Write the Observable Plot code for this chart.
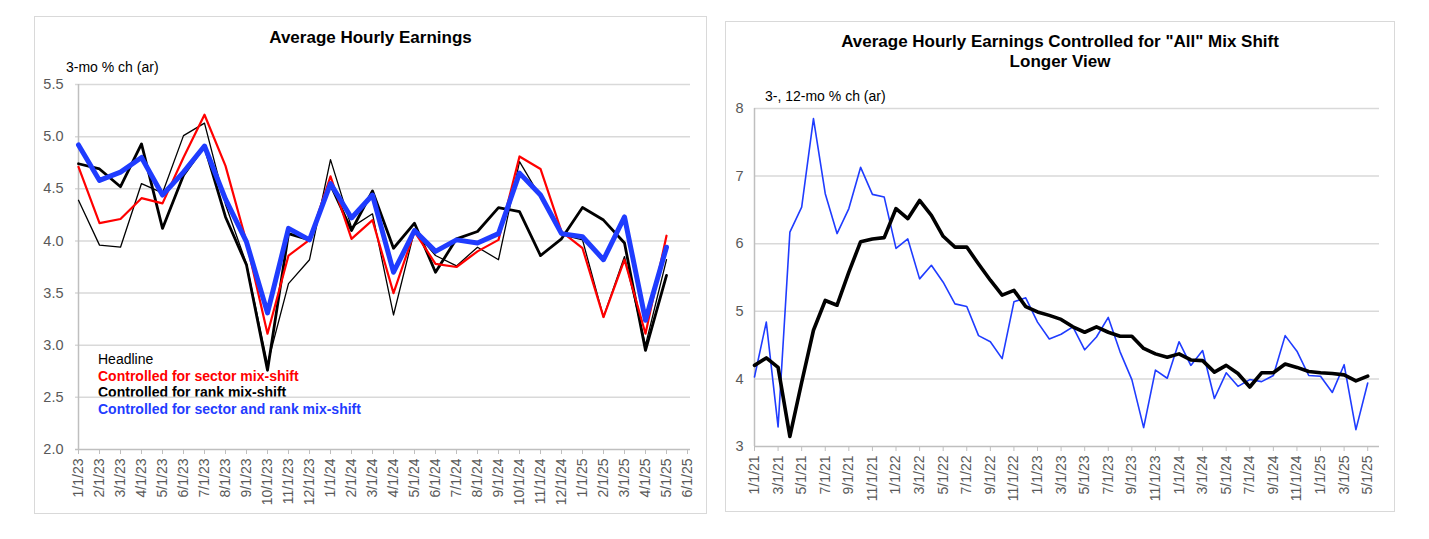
<!DOCTYPE html>
<html>
<head>
<meta charset="utf-8">
<script src="https://cdn.jsdelivr.net/npm/d3@7"></script>
<script src="https://cdn.jsdelivr.net/npm/@observablehq/plot@0.6"></script>
<style>
  html, body { margin: 0; padding: 0; background: #fff; }
  body { width: 1429px; height: 539px; position: relative; overflow: hidden; font-family: "Liberation Sans", Arial, sans-serif; }
  .panel { position: absolute; border: 1.5px solid #d9d9d9; box-sizing: border-box; background: #fff; }
  .title { position: absolute; font-weight: bold; font-size: 17px; color: #000; text-align: center; line-height: 20px; }
  .ylab { position: absolute; font-size: 14px; color: #000; }
  .leg { position: absolute; font-size: 14px; line-height: 16.7px; }
  .chart { position: absolute; }
  .chart svg { overflow: visible; }
</style>
</head>
<body>
<div class="panel" style="left:34px; top:16px; width:673px; height:498px;"></div>
<div class="panel" style="left:725px; top:21px; width:670px; height:491px;"></div>

<div class="title" style="left:34px; width:673px; top:28px;">Average Hourly Earnings</div>
<div class="ylab" style="left:66px; top:59px;">3-mo % ch (ar)</div>
<div class="title" style="left:725px; width:670px; top:32px;">Average Hourly Earnings Controlled for "All" Mix Shift<br>Longer View</div>
<div class="ylab" style="left:765px; top:88px;">3-, 12-mo % ch (ar)</div>

<div class="leg" style="left:98px; top:351px;">
  <div style="color:#000;">Headline</div>
  <div style="color:#ff0000; font-weight:bold;">Controlled for sector mix-shift</div>
  <div style="color:#000; font-weight:bold;">Controlled for rank mix-shift</div>
  <div style="color:#1f3cff; font-weight:bold;">Controlled for sector and rank mix-shift</div>
</div>

<div id="left" class="chart" style="left:35px; top:60px;"></div>
<div id="right" class="chart" style="left:726px; top:95px;"></div>

<script>
// ---------- Left chart data (monthly, 1/1/23 .. 5/1/25; axis runs to 6/1/25) ----------
const leftMonths = ["1/1/23","2/1/23","3/1/23","4/1/23","5/1/23","6/1/23","7/1/23","8/1/23","9/1/23","10/1/23","11/1/23","12/1/23",
  "1/1/24","2/1/24","3/1/24","4/1/24","5/1/24","6/1/24","7/1/24","8/1/24","9/1/24","10/1/24","11/1/24","12/1/24",
  "1/1/25","2/1/25","3/1/25","4/1/25","5/1/25","6/1/25"];
const headline = [4.39,3.96,3.94,4.55,4.46,5.01,5.13,4.35,3.78,2.82,3.59,3.82,4.78,4.13,4.26,3.29,4.10,3.86,3.76,3.94,3.82,4.76,4.42,4.06,4.01,3.27,3.85,3.00,3.82];
const sectorMix = [4.71,4.17,4.21,4.41,4.36,4.80,5.21,4.72,3.99,3.11,3.86,4.01,4.62,4.02,4.20,3.50,4.09,3.78,3.75,3.90,4.01,4.81,4.69,4.09,3.93,3.27,3.82,3.11,4.05];
const rankMix = [4.74,4.69,4.52,4.93,4.12,4.63,4.91,4.23,3.77,2.76,4.07,4.01,4.54,4.10,4.48,3.93,4.17,3.70,4.02,4.09,4.32,4.28,3.86,4.02,4.32,4.20,3.98,2.95,3.67];
const sectorRankMix = [4.92,4.58,4.66,4.80,4.44,4.66,4.91,4.40,3.99,3.31,4.12,4.01,4.55,4.22,4.44,3.70,4.10,3.90,4.01,3.98,4.07,4.65,4.44,4.07,4.04,3.82,4.23,3.24,3.94];
const leftYTicks = [2.0,2.5,3.0,3.5,4.0,4.5,5.0,5.5];

// ---------- Right chart data (monthly, 1/1/21 .. 5/1/25; axis runs to 6/1/25) ----------
const rightMonths = [];
for (const yy of [21,22,23,24,25]) for (let m = 1; m <= 12; m++) { if (yy === 25 && m > 6) break; rightMonths.push(`${m}/1/${yy}`); }
const allMix3mo = [4.03,4.84,3.29,6.17,6.54,7.85,6.74,6.15,6.52,7.13,6.73,6.69,5.93,6.07,5.48,5.68,5.43,5.11,5.07,4.64,4.55,4.30,5.14,5.20,
  4.84,4.59,4.66,4.77,4.43,4.62,4.91,4.40,3.99,3.28,4.13,4.01,4.55,4.20,4.42,3.71,4.09,3.89,3.99,3.96,4.05,4.64,4.41,4.05,4.04,3.80,4.21,3.25,3.94];
const allMix12mo = [4.20,4.31,4.17,3.15,3.95,4.72,5.16,5.09,5.58,6.03,6.07,6.09,6.52,6.37,6.64,6.42,6.11,5.95,5.95,5.70,5.46,5.24,5.31,5.07,
  4.99,4.94,4.88,4.77,4.69,4.77,4.69,4.63,4.63,4.45,4.37,4.32,4.37,4.28,4.27,4.10,4.20,4.08,3.88,4.09,4.09,4.22,4.17,4.11,4.09,4.08,4.06,3.97,4.04];
const rightYTicks = [3,4,5,6,7,8];
const rightXTicks = rightMonths.filter((d, i) => i % 2 === 0 && i < rightMonths.length - 1);

const toRows = (months, vals) => vals.map((v, i) => ({m: months[i], v}));

const gridColor = "#d9d9d9";
const axisColor = "#bfbfbf";
const tickText = "#595959";

// ---------- Left chart ----------
const left = Plot.plot({
  width: 670, height: 450,
  marginLeft: 40, marginRight: 15, marginTop: 24, marginBottom: 61,
  style: {fontFamily: "'Liberation Sans', Arial, sans-serif", background: "transparent"},
  x: {type: "point", domain: leftMonths, padding: 0, label: null, axis: null},
  y: {domain: [2.0, 5.5], label: null, axis: null},
  marks: [
    Plot.ruleY(leftYTicks.slice(1), {stroke: gridColor, strokeWidth: 1.5}),
    Plot.ruleY([2.0], {stroke: axisColor, strokeWidth: 1.5}),
    Plot.ruleX([leftMonths[0]], {stroke: axisColor, strokeWidth: 1.5}),
    Plot.axisX({ticks: leftMonths, tickRotate: -90, tickSize: 5, tickPadding: 4, stroke: axisColor, fill: tickText, fontSize: 14, textAnchor: "end", label: null}),
    Plot.axisY({ticks: leftYTicks, tickSize: 0, tickPadding: 12, tickFormat: d3.format(".1f"), fill: tickText, fontSize: 14.5, label: null}),
    Plot.line(toRows(leftMonths, headline), {x: "m", y: "v", stroke: "#000", strokeWidth: 1.3}),
    Plot.line(toRows(leftMonths, rankMix), {x: "m", y: "v", stroke: "#000", strokeWidth: 2.8}),
    Plot.line(toRows(leftMonths, sectorMix), {x: "m", y: "v", stroke: "#ff0000", strokeWidth: 2.2}),
    Plot.line(toRows(leftMonths, sectorRankMix), {x: "m", y: "v", stroke: "#1f3cff", strokeWidth: 5})
  ]
});
document.getElementById("left").appendChild(left);

// ---------- Right chart ----------
const right = Plot.plot({
  width: 668, height: 415,
  marginLeft: 28, marginRight: 15, marginTop: 13, marginBottom: 64,
  style: {fontFamily: "'Liberation Sans', Arial, sans-serif", background: "transparent"},
  x: {type: "point", domain: rightMonths, padding: 0, label: null, axis: null},
  y: {domain: [3, 8], label: null, axis: null},
  marks: [
    Plot.ruleY(rightYTicks.slice(1), {stroke: gridColor, strokeWidth: 1.5}),
    Plot.ruleY([3], {stroke: axisColor, strokeWidth: 1.5}),
    Plot.ruleX([rightMonths[0]], {stroke: axisColor, strokeWidth: 1.5}),
    Plot.axisX({ticks: rightXTicks, tickRotate: -90, tickSize: 5, tickPadding: 4, stroke: axisColor, fill: tickText, fontSize: 14, textAnchor: "end", label: null}),
    Plot.axisY({ticks: rightYTicks, tickSize: 0, tickPadding: 11, tickFormat: d3.format("d"), fill: tickText, fontSize: 14.5, label: null}),
    Plot.line(toRows(rightMonths, allMix3mo), {x: "m", y: "v", stroke: "#1f3cff", strokeWidth: 1.6}),
    Plot.line(toRows(rightMonths, allMix12mo), {x: "m", y: "v", stroke: "#000", strokeWidth: 3.6})
  ]
});
document.getElementById("right").appendChild(right);
</script>
</body>
</html>
